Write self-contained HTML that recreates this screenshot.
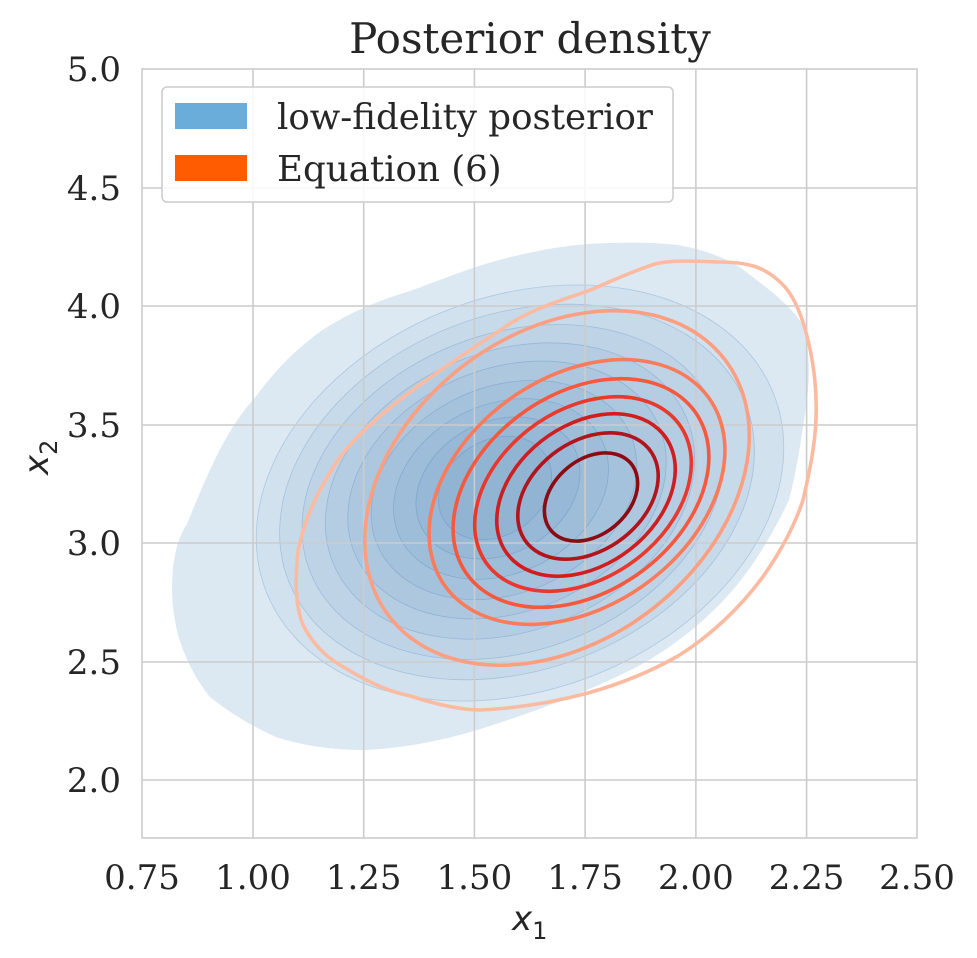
<!DOCTYPE html>
<html><head><meta charset="utf-8"><style>
body{margin:0;background:#fff;}
svg{display:block;font-family:"DejaVu Serif","Liberation Serif",serif;}
</style></head><body>
<svg width="977" height="958" viewBox="0 0 977 958" xmlns="http://www.w3.org/2000/svg">
<rect width="977" height="958" fill="#fff"/>
<path d="M173,568 C176,545 180,535 187,524 C205,480 225,430 254,399 C275,370 295,350 321,331 C350,312 380,300 410,291 C440,280 470,268 499,260 C530,252 560,246 588,244 C620,242 650,242 678,245 C705,250 728,258 745,271 C770,290 790,305 803,325 C810,350 810,375 807,399 C802,435 797,470 789,500 C770,540 748,575 722,602 C695,630 665,652 633,669 C590,690 545,708 499,723 C455,738 410,748 365,750 C330,750 300,745 276,737 C250,725 228,712 209,696 C195,678 185,658 178,635 C172,610 171,590 173,568 Z" fill="#dce9f3"/>
<g fill="rgba(70,130,190,0.07)" stroke="rgba(50,110,180,0.25)" stroke-width="0.8">
<ellipse rx="1.1" ry="0.88" vector-effect="non-scaling-stroke" transform="translate(520,493) scale(270,205) rotate(-50)"/>
<ellipse rx="1.1" ry="0.88" vector-effect="non-scaling-stroke" transform="translate(517,492) scale(243,185) rotate(-50)"/>
<ellipse rx="1.1" ry="0.88" vector-effect="non-scaling-stroke" transform="translate(513,492) scale(216,165) rotate(-50)"/>
<ellipse rx="1.1" ry="0.88" vector-effect="non-scaling-stroke" transform="translate(510,491) scale(189,146) rotate(-50)"/>
<ellipse rx="1.1" ry="0.88" vector-effect="non-scaling-stroke" transform="translate(507,490) scale(163,127) rotate(-50)"/>
<ellipse rx="1.1" ry="0.88" vector-effect="non-scaling-stroke" transform="translate(504,490) scale(136,108) rotate(-50)"/>
<ellipse rx="1.1" ry="0.88" vector-effect="non-scaling-stroke" transform="translate(501,489) scale(110,89) rotate(-50)"/>
<ellipse rx="1.1" ry="0.88" vector-effect="non-scaling-stroke" transform="translate(498,488) scale(84,70) rotate(-50)"/>
<ellipse rx="1.1" ry="0.88" vector-effect="non-scaling-stroke" transform="translate(495,488) scale(58,51) rotate(-50)"/>
</g>
<g stroke="#cccccc" stroke-width="1.6" fill="none">
<line x1="253" y1="69" x2="253" y2="838"/><line x1="363.7" y1="69" x2="363.7" y2="838"/><line x1="474.4" y1="69" x2="474.4" y2="838"/><line x1="585.1" y1="69" x2="585.1" y2="838"/><line x1="695.9" y1="69" x2="695.9" y2="838"/><line x1="806.6" y1="69" x2="806.6" y2="838"/>
<line x1="142" y1="780" x2="917" y2="780"/><line x1="142" y1="662" x2="917" y2="662"/><line x1="142" y1="543" x2="917" y2="543"/><line x1="142" y1="425" x2="917" y2="425"/><line x1="142" y1="306" x2="917" y2="306"/><line x1="142" y1="188" x2="917" y2="188"/>
<rect x="142" y="69" width="775" height="769"/>
</g>
<g fill="none" stroke-width="3.6" stroke-linejoin="round">
<path d="M816,419 C818,370 805,310 785,287 C765,265 745,262 718,262 C690,261 670,260 655,264 C630,272 610,282 588,291 C555,302 525,312 499,331 C470,350 440,370 410,392 C380,415 350,440 334,466 C315,495 303,525 298,551 C295,580 295,605 303,625 C315,648 330,660 347,669 C368,682 390,692 410,696 C435,704 460,710 481,710 C520,708 555,702 588,693 C620,684 650,672 678,656 C710,636 740,608 762,578 C780,553 795,525 803,500 C810,470 815,445 816,419 Z" stroke="#fcbba1"/>
<ellipse rx="1.14" ry="0.84" vector-effect="non-scaling-stroke" stroke="#fc9e80" transform="translate(557,488) scale(192,177) rotate(-45)"/>
<ellipse rx="1.15" ry="0.83" vector-effect="non-scaling-stroke" stroke="#fb7a5a" transform="translate(577,492) scale(147.5,132) rotate(-45)"/>
<ellipse rx="1.15" ry="0.83" vector-effect="non-scaling-stroke" stroke="#f6583e" transform="translate(581,493) scale(127.5,114) rotate(-45)"/>
<ellipse rx="1.15" ry="0.83" vector-effect="non-scaling-stroke" stroke="#e8392c" transform="translate(583,494) scale(108,97) rotate(-45)"/>
<ellipse rx="1.15" ry="0.83" vector-effect="non-scaling-stroke" stroke="#cf1d20" transform="translate(586,495) scale(89,81) rotate(-45)"/>
<ellipse rx="1.15" ry="0.83" vector-effect="non-scaling-stroke" stroke="#b3131a" transform="translate(588,496) scale(70,63) rotate(-45)"/>
<ellipse rx="1.15" ry="0.83" vector-effect="non-scaling-stroke" stroke="#8c0a12" transform="translate(591,497) scale(46.5,44) rotate(-45)"/>
</g>
<rect x="162" y="87" width="511" height="115" rx="5" fill="#fff" fill-opacity="0.85" stroke="#cccccc" stroke-width="1.5"/>
<rect x="175" y="103" width="72" height="26" fill="#6aaddb"/>
<rect x="175" y="155" width="72" height="26" fill="#ff5b00"/>
<g fill="#262626" font-size="35.6">
<text x="277" y="129">low-fidelity posterior</text>
<text x="277" y="181">Equation (6)</text>
</g>
<g fill="#262626" font-size="34" text-anchor="middle">
<text x="142" y="889">0.75</text><text x="253" y="889">1.00</text><text x="363.7" y="889">1.25</text><text x="474.4" y="889">1.50</text><text x="585.1" y="889">1.75</text><text x="695.9" y="889">2.00</text><text x="806.6" y="889">2.25</text><text x="917" y="889">2.50</text>
</g>
<g fill="#262626" font-size="34" text-anchor="end">
<text x="121" y="792">2.0</text><text x="121" y="674">2.5</text><text x="121" y="555">3.0</text><text x="121" y="437">3.5</text><text x="121" y="318">4.0</text><text x="121" y="200">4.5</text><text x="121" y="81">5.0</text>
</g>
<text x="530" y="53" font-size="42" text-anchor="middle" fill="#262626">Posterior density</text>
<text x="512" y="930" font-size="34" font-style="italic" fill="#262626" font-family="DejaVu Sans, sans-serif">x<tspan font-size="24" dy="9" font-style="normal">1</tspan></text>
<text transform="translate(48,475) rotate(-90)" font-size="34" font-style="italic" fill="#262626" font-family="DejaVu Sans, sans-serif">x<tspan font-size="24" dy="9" font-style="normal">2</tspan></text>
</svg>
</body></html>
